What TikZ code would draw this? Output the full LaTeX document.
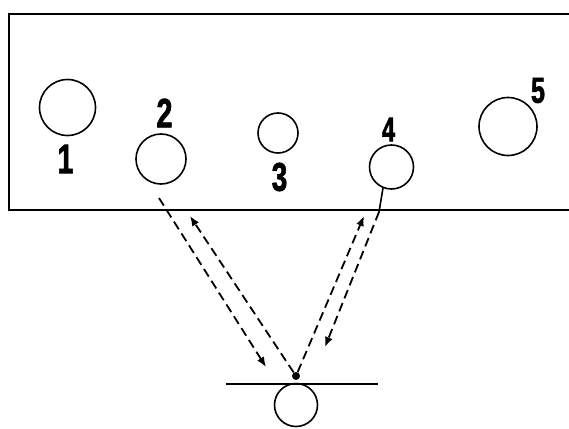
\documentclass[tikz,border=0pt]{standalone}
\usepackage{fontspec}
\setmainfont{Liberation Sans}
\newfontfamily\labfont{Liberation Sans}[UprightFont=* Bold,FakeBold=2]
\usetikzlibrary{arrows.meta}
\newcommand\lab[2]{\scalebox{0.7}[1]{\fontsize{#1}{#1}\selectfont\labfont #2}}
\tikzset{
  hole/.style={circle,draw,line width=1.6pt,inner sep=0pt,minimum size=#1},
  num/.style={inner sep=0pt},
  ray/.style={line width=1.8pt,dash pattern=on 9pt off 5pt,-{Latex[length=10pt,width=8pt]}},
  wall/.style={line width=1.6pt}
}
\begin{document}
\begin{tikzpicture}[x=1pt,y=-1pt]
\useasboundingbox (0,0) rectangle (569,428);
\draw[wall] (572,14) -- (9,14) -- (9,210) -- (572,210);
\node[hole=56pt] (c1) at (67.5,107.5) {};
\node[hole=50pt] (c2) at (161,159) {};
\node[hole=40pt] (c3) at (278,133) {};
\node[hole=44pt] (c4) at (391.5,167) {};
\node[hole=58pt] (c5) at (508,126.5) {};
\node[hole=43pt] (c6) at (296,405) {};
\node[num] (l1) at (65.5,159) {\lab{41}{1}};
\node[num] (l2) at (164.5,113) {\lab{41}{2}};
\node[num] (l3) at (279.5,177) {\lab{40}{3}};
\node[num] (l4) at (388.5,129.5) {\lab{34}{4}};
\node[num] (l5) at (538,90.5) {\lab{36}{5}};
\node[circle,fill,inner sep=0pt,minimum size=8pt] (dot) at (296,376) {};
\coordinate (m1) at (226,384);
\coordinate (m2) at (378,384);
\draw[wall] (m1) -- (m2);
\coordinate (s2) at (159,198);
\coordinate (e2) at (266,367);
\coordinate (e3) at (190,216);
\coordinate (s4) at (379,212);
\coordinate (e4) at (325,347);
\coordinate (e5) at (364,216);
\draw[ray] (s2) -- (e2);
\draw[ray] (dot) -- (e3);
\draw[wall] (c4.-112) -- (s4);
\draw[ray] (s4) -- (e4);
\draw[ray] (dot) -- (e5);
\end{tikzpicture}
\end{document}
